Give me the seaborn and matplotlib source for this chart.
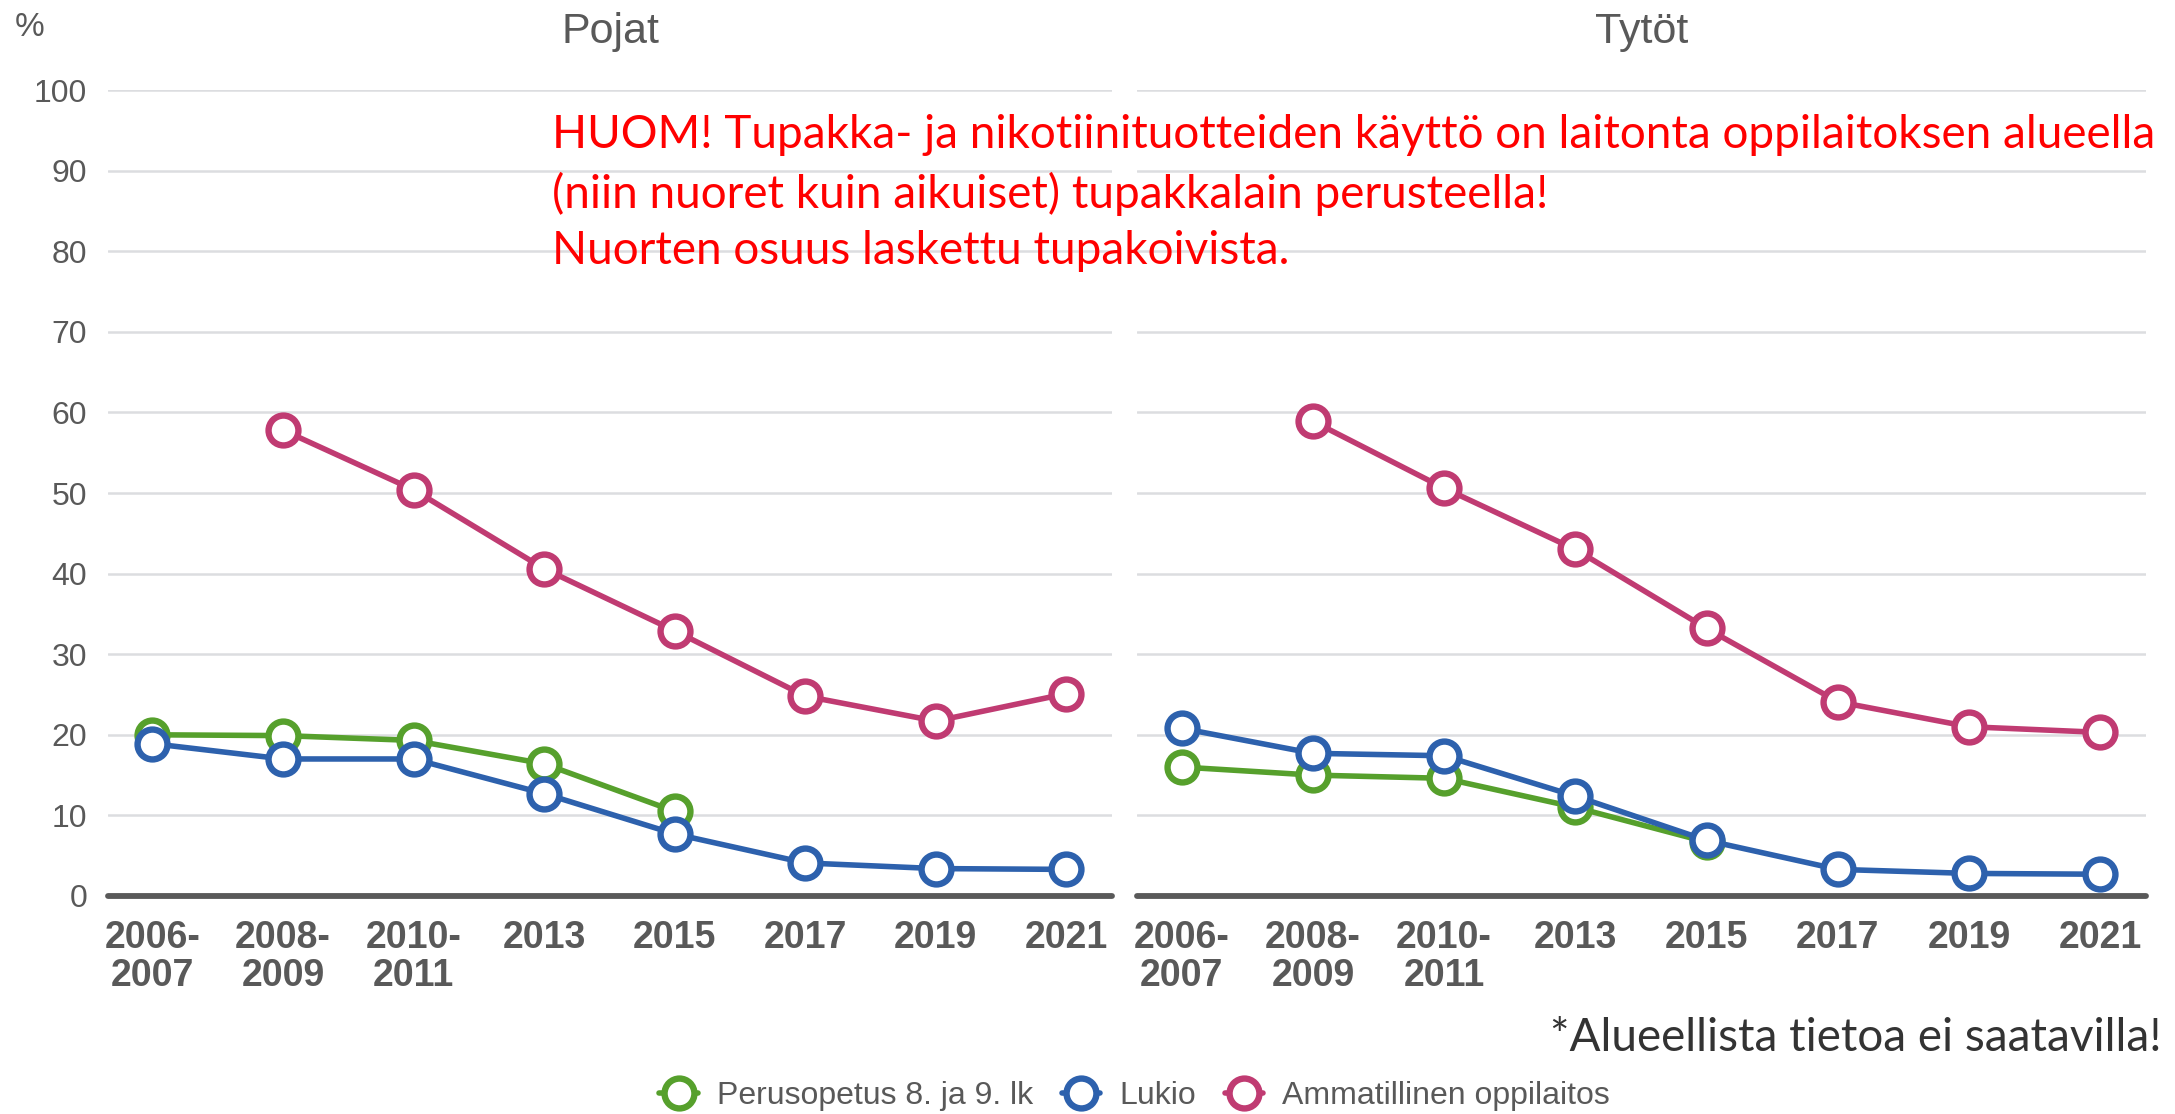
import pandas as pd
import numpy as np
import matplotlib
matplotlib.use("Agg")
import matplotlib.pyplot as plt
from matplotlib.lines import Line2D
import seaborn as sns

years = ['2006-\n2007', '2008-\n2009', '2010-\n2011', '2013', '2015', '2017', '2019', '2021']
panels = ['Pojat', 'Tytöt']
series = ['Perusopetus 8. ja 9. lk', 'Lukio', 'Ammatillinen oppilaitos']

pojat_perus = [20.0, 19.9, 19.3, 16.4, 10.5, np.nan, np.nan, np.nan]
pojat_lukio = [18.9, 17.0, 17.0, 12.7, 7.7, 4.1, 3.4, 3.3]
pojat_amm = [np.nan, 57.8, 50.4, 40.6, 32.9, 24.8, 21.7, 25.1]

tytot_perus = [16.0, 15.0, 14.6, 11.0, 6.7, np.nan, np.nan, np.nan]
tytot_lukio = [20.8, 17.7, 17.4, 12.4, 6.9, 3.3, 2.8, 2.7]
tytot_amm = [np.nan, 58.9, 50.6, 43.0, 33.2, 24.1, 21.0, 20.3]

colors = {'Perusopetus 8. ja 9. lk': '#56a02c',
          'Lukio': '#2d61ad',
          'Ammatillinen oppilaitos': '#c03b72'}

note = ("HUOM! Tupakka- ja nikotiinituotteiden käyttö on laitonta oppilaitoksen alueella\n"
        "(niin nuoret kuin aikuiset) tupakkalain perusteella!\n"
        "Nuorten osuus laskettu tupakoivista.")
footnote = "*Alueellista tietoa ei saatavilla!"

rows = []
for panel, vals in [('Pojat', [pojat_perus, pojat_lukio, pojat_amm]),
                    ('Tytöt', [tytot_perus, tytot_lukio, tytot_amm])]:
    for s, v in zip(series, vals):
        for i, y in enumerate(v):
            rows.append({'panel': panel, 'series': s, 'idx': i, 'value': y})
df = pd.DataFrame(rows).dropna()

sns.set_style('white')
plt.rcParams['font.family'] = ['Liberation Sans', 'DejaVu Sans']

grey = '#595959'
ms, mew, lw = 21.5, 4.6, 4.0
fig = plt.figure(figsize=(21.75, 11.14), dpi=100)
ax_pos = [[0.0497, 0.1957, 0.4616, 0.7235], [0.5228, 0.1957, 0.4639, 0.7235]]

for k, panel in enumerate(panels):
    ax = fig.add_axes(ax_pos[k])
    sub = df[df['panel'] == panel]
    for s in series:
        d = sub[sub['series'] == s]
        c = colors[s]
        sns.lineplot(data=d, x='idx', y='value', ax=ax, color=c, lw=lw,
                     marker='o', markersize=ms, mfc='white', mec=c, mew=mew,
                     zorder=3, clip_on=False)
    ax.set_xlim(-0.34, 7.35)
    ax.set_ylim(0, 100)
    ax.set_yticks(range(0, 101, 10))
    ax.set_xticks(range(len(years)))
    ax.set_xticklabels(years, fontsize=27, fontweight='bold', color=grey, linespacing=1.1)
    ax.grid(axis='y', color='#dcdde0', lw=1.8)
    ax.set_axisbelow(True)
    for sp in ax.spines.values():
        sp.set_visible(False)
    ax.axhline(0, color=grey, lw=4.2, zorder=2, clip_on=False)
    ax.tick_params(axis='x', length=0, pad=17)
    ax.tick_params(axis='y', length=0, pad=15, labelsize=23, labelcolor=grey)
    if k == 1:
        ax.set_yticklabels([])
    ax.set_xlabel('')
    ax.set_ylabel('')
    ax.set_title(panel, fontsize=31, color=grey, pad=34)

fig.text(15 / 2175, 1 - 12 / 1114, '%', fontsize=24, color=grey, va='top', ha='left')

fig.text(552 / 2175, 1 - 114 / 1114, note, fontsize=33, color='#ff0000',
         family=['Lato', 'DejaVu Sans'], va='top', ha='left', linespacing=1.43)

fig.text(2162 / 2175, 1 - 1038 / 1114, footnote, fontsize=33, color='#333333',
         family=['Lato', 'DejaVu Sans'], va='center', ha='right')

handles = [Line2D([], [], color=colors[s], lw=lw, marker='o', markersize=ms,
                  mfc='white', mec=colors[s], mew=mew) for s in series]
fig.legend(handles, series, loc='center', bbox_to_anchor=(0.5217, 1 - 1096 / 1114),
           ncol=3, frameon=False, fontsize=23, labelcolor=grey, handlelength=1.2,
           handletextpad=0.6, columnspacing=0.9)

fig.savefig('out.png', dpi=100)
